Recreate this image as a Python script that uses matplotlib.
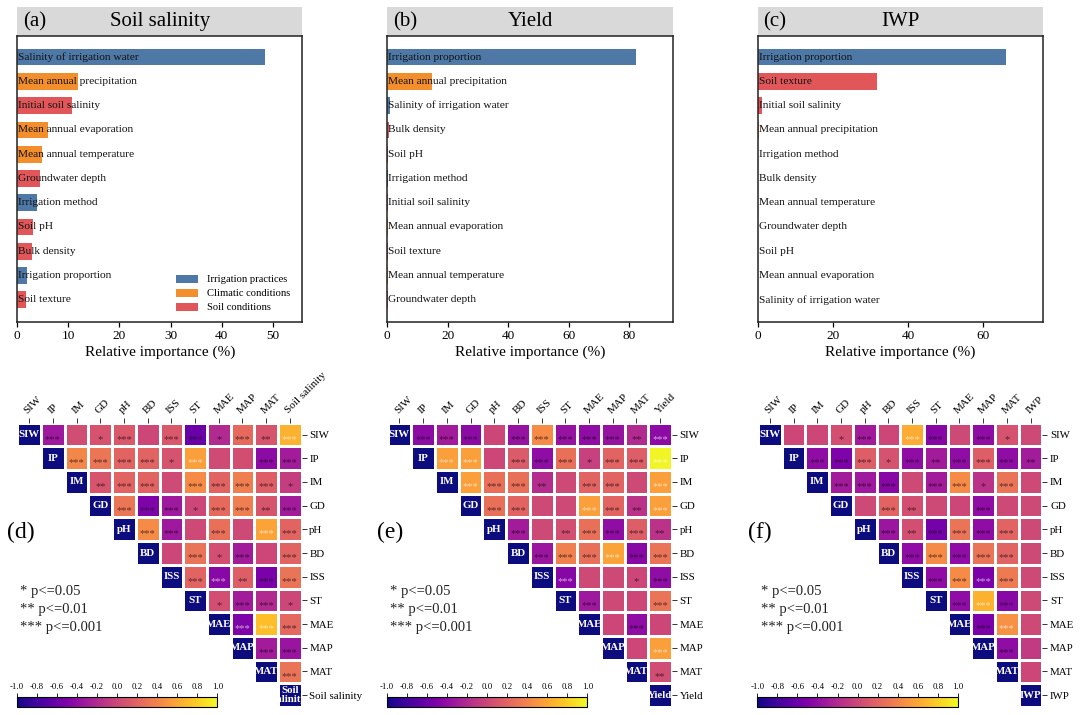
import numpy as np
import matplotlib
matplotlib.use('Agg')
import matplotlib.pyplot as plt
from matplotlib.patches import Patch, Rectangle
from matplotlib.colors import ListedColormap
from matplotlib.transforms import Bbox, TransformedBbox
from matplotlib.ticker import MultipleLocator

plt.rcParams['font.family'] = ['Liberation Serif', 'DejaVu Serif']

# ---------------- data: relative importance ----------------
group_of = {
    'Salinity of irrigation water': 'Irrigation practices',
    'Irrigation method': 'Irrigation practices',
    'Irrigation proportion': 'Irrigation practices',
    'Mean annual precipitation': 'Climatic conditions',
    'Mean annual evaporation': 'Climatic conditions',
    'Mean annual temperature': 'Climatic conditions',
    'Initial soil salinity': 'Soil conditions',
    'Groundwater depth': 'Soil conditions',
    'Soil pH': 'Soil conditions',
    'Bulk density': 'Soil conditions',
    'Soil texture': 'Soil conditions',
}
group_names = ['Irrigation practices', 'Climatic conditions', 'Soil conditions']
group_colors = ['#4e79a7', '#f28e2b', '#e15759']

features_a = ['Salinity of irrigation water', 'Mean annual precipitation', 'Initial soil salinity',
              'Mean annual evaporation', 'Mean annual temperature', 'Groundwater depth',
              'Irrigation method', 'Soil pH', 'Bulk density', 'Irrigation proportion', 'Soil texture']
values_a = [48.5, 11.9, 10.7, 6.0, 4.8, 4.4, 3.9, 3.2, 2.9, 1.9, 1.8]

features_b = ['Irrigation proportion', 'Mean annual precipitation', 'Salinity of irrigation water',
              'Bulk density', 'Soil pH', 'Irrigation method', 'Initial soil salinity',
              'Mean annual evaporation', 'Soil texture', 'Mean annual temperature', 'Groundwater depth']
values_b = [82.2, 14.8, 0.8, 0.6, 0.25, 0.2, 0.2, 0.15, 0.12, 0.1, 0.08]

features_c = ['Irrigation proportion', 'Soil texture', 'Initial soil salinity', 'Mean annual precipitation',
              'Irrigation method', 'Bulk density', 'Mean annual temperature', 'Groundwater depth',
              'Soil pH', 'Mean annual evaporation', 'Salinity of irrigation water']
values_c = [66.0, 31.6, 1.1, 0.45, 0.15, 0.12, 0.1, 0.08, 0.06, 0.05, 0.03]

bar_titles = ['Soil salinity', 'Yield', 'IWP']
bar_letters = ['(a)', '(b)', '(c)']
bar_tick_steps = [10, 20, 20]

# ---------------- data: correlation matrices (upper triangle, row-wise) ----------------
base_vars = ['SIW', 'IP', 'IM', 'GD', 'pH', 'BD', 'ISS', 'ST', 'MAE', 'MAP', 'MAT']
targets = ['Soil salinity', 'Yield', 'IWP']

corr_d = [
    [-0.32, 0.04, 0.08, 0.12, 0.0, 0.12, -0.6, -0.2, 0.24, 0.1, 0.66],
    [0.42, 0.32, 0.2, 0.2, 0.08, 0.56, 0.03, 0.05, -0.42, -0.3],
    [0.1, 0.2, 0.2, 0.03, 0.44, 0.2, 0.36, 0.16, -0.06],
    [0.32, -0.5, -0.32, 0.0, 0.24, 0.36, 0.1, -0.3],
    [0.44, -0.32, 0.02, 0.28, 0.02, 0.58, 0.2],
    [0.0, 0.3, 0.06, -0.3, 0.0, 0.2],
    [0.2, -0.44, 0.16, -0.52, 0.3],
    [0.06, -0.3, -0.2, 0.0],
    [-0.5, 0.72, 0.22],
    [-0.3, -0.35],
    [0.3],
]
stars_d = [
    ['***', '', '*', '***', '', '***', '***', '*', '***', '**', '***'],
    ['***', '***', '***', '***', '*', '***', '', '', '***', '***'],
    ['**', '***', '***', '', '***', '***', '***', '***', '*'],
    ['***', '***', '***', '*', '***', '***', '**', '***'],
    ['***', '***', '', '***', '', '***', '***'],
    ['', '***', '*', '***', '', '***'],
    ['***', '***', '**', '***', '***'],
    ['*', '***', '***', '*'],
    ['***', '***', '***'],
    ['***', '***'],
    ['***'],
]
light_d = [(0, 11), (1, 7), (4, 10), (6, 8), (8, 9), (8, 10)]

corr_e = [
    [-0.42, -0.3, -0.42, 0.0, -0.36, 0.44, -0.36, -0.4, -0.36, -0.2, -0.42],
    [0.56, 0.56, 0.0, 0.14, -0.4, 0.28, -0.04, 0.2, 0.16, 0.98],
    [0.56, 0.28, 0.28, -0.18, 0.02, 0.2, 0.2, 0.02, 0.56],
    [0.28, 0.2, 0.02, 0.02, 0.56, 0.2, -0.14, 0.56],
    [-0.3, 0.02, 0.06, 0.28, -0.4, 0.16, -0.14],
    [-0.34, 0.38, 0.28, 0.58, -0.44, 0.3],
    [-0.46, 0.02, 0.02, 0.0, -0.4],
    [-0.32, 0.02, 0.0, 0.3],
    [0.0, -0.4, 0.0],
    [0.0, 0.56],
    [0.04],
]
stars_e = [
    ['***', '***', '***', '', '***', '***', '***', '***', '***', '**', '***'],
    ['***', '***', '', '***', '***', '***', '*', '***', '***', '***'],
    ['***', '***', '***', '**', '', '***', '***', '', '***'],
    ['***', '***', '', '', '***', '***', '**', '***'],
    ['***', '', '**', '***', '***', '***', '**'],
    ['***', '***', '***', '***', '***', '***'],
    ['***', '', '', '*', '***'],
    ['***', '', '', '***'],
    ['', '***', ''],
    ['', '***'],
    ['**'],
]
light_e = [(0, 11), (1, 2), (1, 3), (1, 11), (2, 3), (2, 11), (3, 8), (3, 11), (5, 9), (6, 7), (9, 11)]

corr_f = [
    [0.0, 0.0, 0.06, -0.3, 0.0, 0.62, -0.46, 0.02, -0.4, 0.08, 0.02],
    [-0.4, -0.5, 0.16, 0.08, -0.4, -0.3, -0.4, 0.16, -0.4, -0.3],
    [-0.3, -0.32, -0.44, 0.02, -0.3, 0.44, -0.14, 0.3, 0.02],
    [0.02, 0.2, 0.06, 0.02, 0.0, -0.4, 0.02, 0.02],
    [-0.34, 0.06, -0.54, 0.3, -0.4, 0.2, 0.02],
    [-0.4, 0.44, -0.4, 0.3, 0.2, 0.02],
    [-0.4, 0.44, -0.52, 0.34, 0.02],
    [-0.4, 0.66, -0.44, 0.02],
    [-0.52, 0.48, 0.02],
    [-0.4, -0.08],
    [0.0],
]
stars_f = [
    ['', '', '*', '***', '', '***', '***', '', '***', '*', ''],
    ['***', '***', '***', '*', '***', '**', '***', '***', '***', '**'],
    ['***', '***', '***', '', '***', '***', '*', '***', ''],
    ['', '***', '**', '', '', '***', '', ''],
    ['***', '**', '***', '***', '***', '***', ''],
    ['***', '***', '***', '***', '***', ''],
    ['***', '***', '***', '***', ''],
    ['***', '***', '***', ''],
    ['***', '***', ''],
    ['***', ''],
    [''],
]
light_f = [(0, 6), (6, 9), (7, 9), (8, 10)]

heat_letters = ['(d)', '(e)', '(f)']
cbar_ticks = [-1.0, -0.8, -0.6, -0.4, -0.2, 0.0, 0.2, 0.4, 0.6, 0.8, 1.0]
sig_legend = ['* p<=0.05', '** p<=0.01', '*** p<=0.001']

# ---------------- layout helpers ----------------
W, H = 1080, 715
fig = plt.figure(figsize=(10.8, 7.15), dpi=100)


def ax_px(l, t, r, b):
    return fig.add_axes([l / W, 1 - b / H, (r - l) / W, (b - t) / H])


col_lefts = [17.0, 387.3, 757.7]
bar_sets = [(features_a, values_a), (features_b, values_b), (features_c, values_c)]

# ---------------- bar panels ----------------
for k in range(3):
    feats, vals = bar_sets[k]
    left = col_lefts[k]
    ax = ax_px(left, 36, left + 285.5, 322)
    cols = [group_colors[group_names.index(group_of[f])] for f in feats]
    y = np.arange(len(feats))
    ax.barh(y, vals, height=0.69, color=cols)
    ax.set_xlim(0, max(vals) * 1.15)
    ax.set_ylim(len(feats) - 0.08, -0.87)
    ax.set_yticks([])
    ax.xaxis.set_major_locator(MultipleLocator(bar_tick_steps[k]))
    ax.tick_params(axis='x', labelsize=9.5, length=3.5, width=0.9, pad=2)
    for s in ax.spines.values():
        s.set_linewidth(1.1)
        s.set_color('#222222')
    ax.set_xlabel('Relative importance (%)', fontsize=11, labelpad=3)
    for i, f in enumerate(feats):
        ax.text(0.004, i, f, transform=ax.get_yaxis_transform(), fontsize=8.2,
                va='center', ha='left', color='#111111')
    strip_h = 29 / 286
    ax.add_patch(Rectangle((0, 1.0), 1, strip_h, transform=ax.transAxes,
                           facecolor='#d9d9d9', edgecolor='none', clip_on=False))
    ax.text(0.5, 1 + strip_h * 0.5, bar_titles[k], transform=ax.transAxes,
            ha='center', va='center', fontsize=15)
    ax.text(0.02, 1 + strip_h * 0.5, bar_letters[k], transform=ax.transAxes,
            ha='left', va='center', fontsize=15)
    if k == 0:
        handles = [Patch(facecolor=c, edgecolor='none') for c in group_colors]
        ax.legend(handles, group_names, loc='lower right', frameon=False, fontsize=7.6,
                  handlelength=2.1, handleheight=0.8, labelspacing=0.42,
                  handletextpad=0.85, borderaxespad=0.5, bbox_to_anchor=(0.99, 0.0))

# ---------------- heatmap panels ----------------
corr_sets = [(corr_d, stars_d, light_d), (corr_e, stars_e, light_e), (corr_f, stars_f, light_f)]
cb_lefts = [16.7, 386.7, 757.3]
navy = ListedColormap(['#0c0c7e'])
cmap = plt.get_cmap('plasma')

for k in range(3):
    corr, stars, light = corr_sets[k]
    names = base_vars + [targets[k]]
    n = len(names)
    M = np.full((n, n), np.nan)
    S = [['' for _ in range(n)] for _ in range(n)]
    for i in range(n - 1):
        for jj, v in enumerate(corr[i]):
            M[i, i + 1 + jj] = v
            S[i][i + 1 + jj] = stars[i][jj]
    D = np.full((n, n), np.nan)
    np.fill_diagonal(D, 1.0)

    left = col_lefts[k] + 0.3
    ax = ax_px(left, 422.7, left + 284.4, 707)
    edges = np.arange(n + 1)
    ax.pcolormesh(edges, edges, np.ma.masked_invalid(M), cmap=cmap, vmin=-1, vmax=1,
                  edgecolors='white', linewidth=1.0)
    ax.pcolormesh(edges, edges, np.ma.masked_invalid(D), cmap=navy, vmin=0, vmax=2,
                  edgecolors='white', linewidth=1.0)
    ax.set_xlim(0, n)
    ax.set_ylim(n, 0)
    for s in ax.spines.values():
        s.set_visible(False)
    centers = np.arange(n) + 0.5
    ax.set_xticks(centers)
    ax.set_xticklabels(names, rotation=45, ha='left', rotation_mode='anchor', fontsize=8)
    ax.xaxis.set_ticks_position('top')
    ax.set_yticks(centers)
    ax.set_yticklabels(names, fontsize=7.8)
    ax.yaxis.set_ticks_position('right')
    ax.tick_params(axis='both', length=3.5, width=0.7, pad=2, color='#333333')

    for i in range(n):
        for j in range(i + 1, n):
            if S[i][j]:
                col = (1, 1, 1, 0.62) if (i, j) in light else (0.05, 0, 0.05, 0.62)
                ax.text(j + 0.5, i + 0.7, S[i][j], ha='center', va='center',
                        fontsize=7.6, color=col)
        lab = names[i]
        if len(lab) > 5:
            lab = lab.replace(' ', '\n')
        t = ax.text(i + 0.5, i + 0.5, lab, ha='center', va='center', color='white',
                    fontweight='bold', fontsize=7.8, linespacing=0.95)
        t.set_clip_box(TransformedBbox(Bbox([[i, i], [i + 1, i + 1]]), ax.transData))
        t.set_clip_on(True)

    # panel letter and significance legend
    fig.text((col_lefts[k] - 10) / W, 1 - 532 / H, heat_letters[k], fontsize=17,
             va='center', ha='left')
    for m, s in enumerate(sig_legend):
        fig.text((col_lefts[k] + 3) / W, 1 - (592 + 18 * m) / H, s, fontsize=10.5,
                 va='center', ha='left', color='#222222')

    # colorbar
    cax = ax_px(cb_lefts[k], 697, cb_lefts[k] + 200.6, 707)
    sm = matplotlib.cm.ScalarMappable(norm=matplotlib.colors.Normalize(-1, 1), cmap=cmap)
    cb = fig.colorbar(sm, cax=cax, orientation='horizontal', ticks=cbar_ticks)
    cax.xaxis.set_ticks_position('top')
    cb.set_ticklabels([f'{v:.1f}' for v in cbar_ticks])
    cax.tick_params(labelsize=6.3, length=3, width=0.6, pad=1.5)
    cb.outline.set_linewidth(0.8)

fig.savefig('out.png', dpi=100)
